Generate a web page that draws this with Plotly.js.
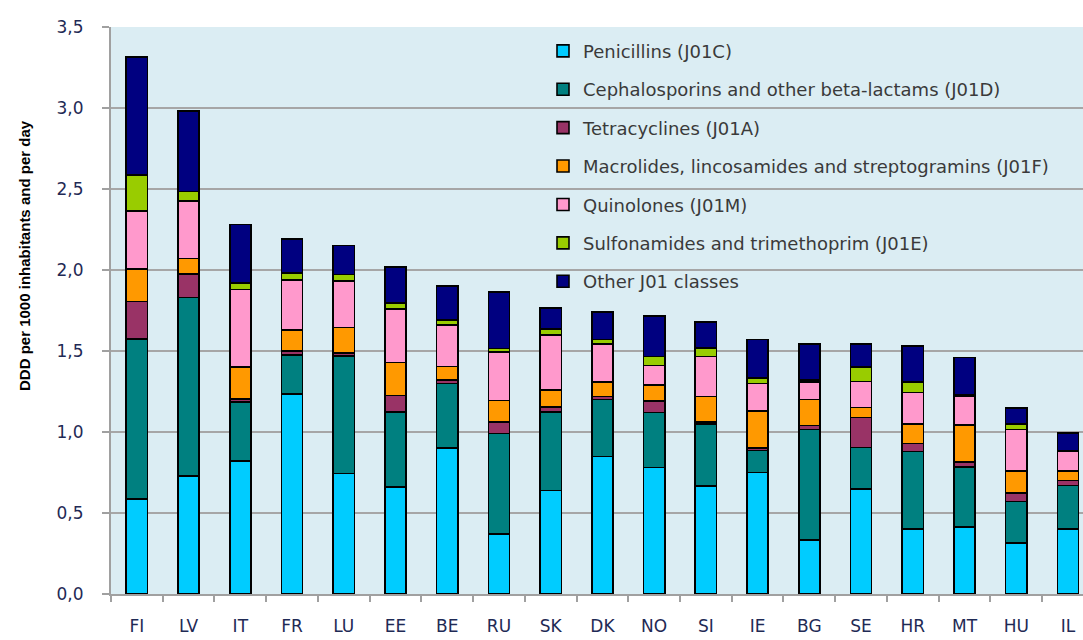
<!DOCTYPE html>
<html>
<head>
<meta charset="utf-8">
<script src="https://cdn.plot.ly/plotly-3.0.1.min.js"></script>
<style>
html,body{margin:0;padding:0;background:#ffffff;}
#chart{width:1083px;height:640px;}
</style>
</head>
<body>
<div id="chart"></div>
<script>
var countries = ["FI","LV","IT","FR","LU","EE","BE","RU","SK","DK","NO","SI","IE","BG","SE","HR","MT","HU","IL"];
var penicillins     = [0.585,0.73,0.82,1.235,0.745,0.66,0.90,0.37,0.64,0.85,0.78,0.665,0.75,0.335,0.65,0.40,0.415,0.315,0.40];
var cephalosporins  = [0.99,1.10,0.365,0.24,0.726,0.465,0.40,0.62,0.485,0.35,0.34,0.385,0.135,0.68,0.255,0.48,0.37,0.255,0.27];
var tetracyclines   = [0.23,0.145,0.02,0.025,0.015,0.10,0.02,0.07,0.03,0.02,0.07,0.01,0.015,0.025,0.185,0.05,0.03,0.055,0.03];
var macrolides      = [0.20,0.095,0.195,0.13,0.16,0.205,0.085,0.135,0.105,0.09,0.10,0.16,0.23,0.16,0.062,0.12,0.23,0.135,0.06];
var quinolones      = [0.36,0.355,0.48,0.31,0.286,0.33,0.255,0.30,0.34,0.235,0.12,0.245,0.17,0.11,0.16,0.195,0.175,0.255,0.12];
var sulfonamides    = [0.22,0.06,0.04,0.04,0.04,0.035,0.03,0.02,0.035,0.025,0.055,0.055,0.035,0.01,0.09,0.065,0.01,0.035,0.005];
var otherJ01        = [0.73,0.495,0.36,0.21,0.18,0.225,0.21,0.35,0.13,0.17,0.25,0.16,0.235,0.225,0.14,0.22,0.23,0.10,0.11];

var seriesNames = ["Penicillins (J01C)","Cephalosporins and other beta-lactams (J01D)","Tetracyclines (J01A)","Macrolides, lincosamides and streptogramins (J01F)","Quinolones (J01M)","Sulfonamides and trimethoprim (J01E)","Other J01 classes"];
var seriesValues = [penicillins,cephalosporins,tetracyclines,macrolides,quinolones,sulfonamides,otherJ01];
var seriesColors = ["#00CCFF","#008080","#993366","#FF9900","#FF99CC","#99CC00","#000080"];

var yTickVals = [0,0.5,1,1.5,2,2.5,3,3.5];
var yTickText = ["0,0","0,5","1,0","1,5","2,0","2,5","3,0","3,5"];

var traces = seriesValues.map(function(v,i){
  return {
    type:"bar", x:countries, y:v, name:seriesNames[i],
    legendgroup:"g"+i,
    marker:{color:seriesColors[i], line:{color:"#000000", width:1.6}},
    width:0.41, hoverinfo:"x+y+name"
  };
});

var layout = {
  width:1083, height:640,
  margin:{l:111, r:0, t:27, b:46, pad:0},
  paper_bgcolor:"#ffffff",
  plot_bgcolor:"#DBEDF3",
  barmode:"stack",
  bargap:0.59,
  showlegend:true,
  legend:{
    x:(543-111)/972, y:0.99, xanchor:"left", yanchor:"top",
    bgcolor:"rgba(0,0,0,0)", borderwidth:0,
    traceorder:"grouped", tracegroupgap:12,
    font:{family:"'DejaVu Sans', sans-serif", size:18, color:"#3A3A3A"}
  },
  xaxis:{
    type:"category", range:[-0.5,18.29],
    showline:true, linecolor:"#A0A0A0", linewidth:2,
    ticks:"outside", tickson:"boundaries", ticklen:6, tickcolor:"#A0A0A0", tickwidth:2,
    ticklabelstandoff:16,
    tickfont:{family:"'DejaVu Sans', sans-serif", size:17, color:"#1F2A55"},
    showgrid:false, zeroline:false, fixedrange:true
  },
  yaxis:{
    range:[0,3.5], tickvals:yTickVals, ticktext:yTickText,
    showline:true, linecolor:"#A0A0A0", linewidth:2,
    ticks:"outside", ticklen:7, tickcolor:"#A0A0A0", tickwidth:2,
    ticklabelstandoff:15,
    showgrid:true, gridcolor:"#A6A6A6", gridwidth:2,
    zeroline:false,
    tickfont:{family:"'DejaVu Sans', sans-serif", size:17, color:"#1F2A55"},
    fixedrange:true
  },
  annotations:[{
    text:"<b>DDD per 1000 inhabitants and per day</b>",
    xref:"paper", yref:"paper",
    x:(24-111)/972, y:(594-256)/567,
    xanchor:"center", yanchor:"middle",
    textangle:-90, showarrow:false,
    font:{family:"'Liberation Sans Narrow', 'Liberation Sans', Arial, sans-serif", size:15, color:"#000000"}
  }]
};

Plotly.newPlot("chart", traces, layout, {displayModeBar:false, staticPlot:true});
</script>
</body>
</html>
